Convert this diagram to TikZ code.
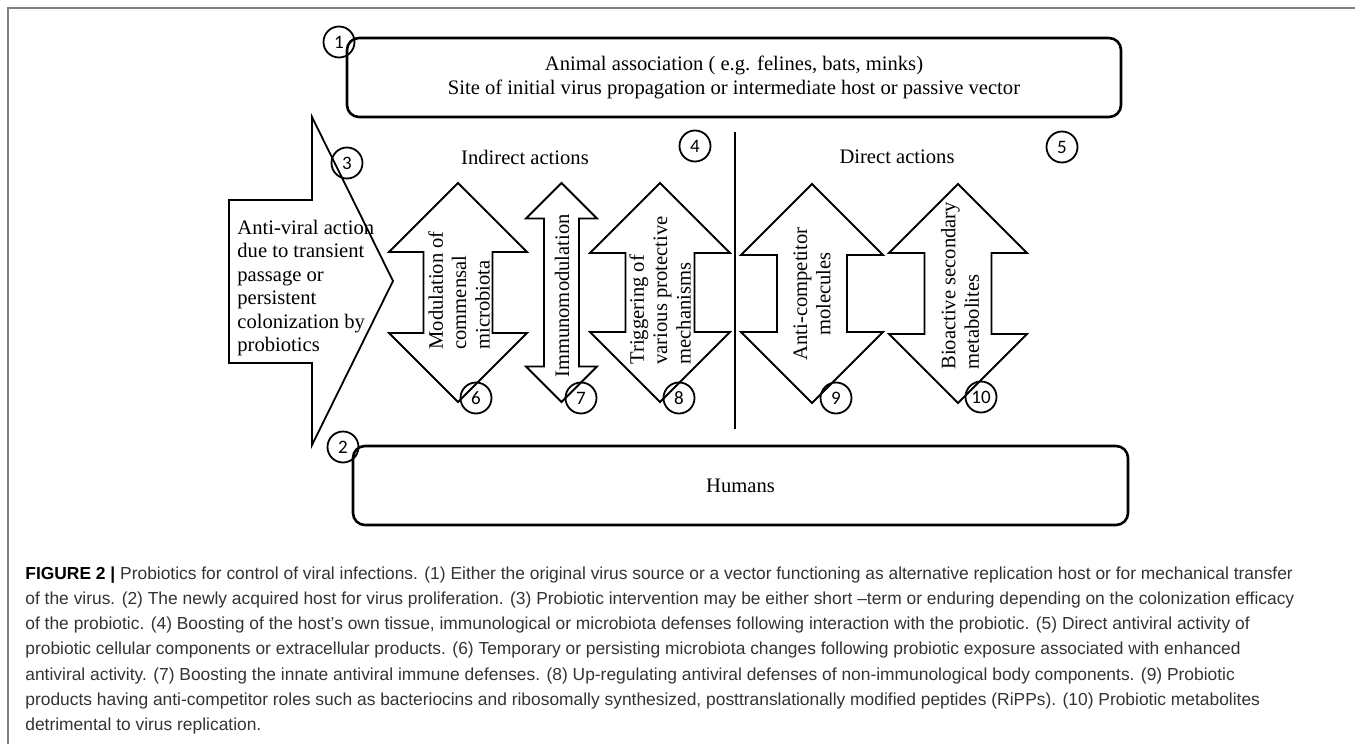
\documentclass[tikz,border=0pt]{standalone}
\usepackage{fontspec}
\setmainfont{Liberation Serif}
\newfontfamily\captionsans{Liberation Sans}
\newfontfamily\circlefont{Carlito}
\usepackage{tikz}

\newcommand{\diagtext}{\fontsize{10.3}{11.7}\selectfont}
% double headed arrow: x, top y, head half width, shaft half width
\newcommand{\dblarrow}[4]{%
  \draw[shapeline] (#1,#2) -- ++(#3,#3) -- ++({#4-#3},0) -- ++(0,{219-2*#3})
    -- ++({#3-#4},0) -- ++(-#3,#3) -- ++(-#3,-#3) -- ++({#3-#4},0)
    -- ++(0,{2*#3-219}) -- ++({#4-#3},0) -- cycle;}

\begin{document}
\begin{tikzpicture}[x=0.5pt, y=-0.5pt,
    shapeline/.style={draw, line width=0.9pt, line join=miter},
    roundbox/.style={draw, line width=1.3pt, rounded corners=6pt, minimum width=387pt, minimum height=39.5pt, inner sep=0pt, align=center, font=\diagtext},
    numcircle/.style={draw, circle, line width=0.9pt, minimum size=15.5pt, inner sep=0pt, font=\circlefont\fontsize{9.5}{10}\selectfont},
    armlabel/.style={rotate=90, inner sep=0pt, font=\diagtext}]
    \useasboundingbox (0,0) rectangle (1355,744);
    \draw[black!50, line width=0.8pt] (8,744) -- (8,8) -- (1355,8);

    % Hosts
    \node[roundbox] (animal) at (734,77.5) {Animal association ( e.g. felines, bats, minks)\\Site of initial virus propagation or intermediate host or passive vector};
    \node[roundbox, minimum width=387.5pt] (humans) at (740.5,485.5) {Humans};

    % Probiotic passage
    \draw[shapeline] (229,200) -- (312,200) -- (312,117) -- (393,281) -- (312,445) -- (312,363) -- (229,363) -- cycle;
    \node[anchor=west, align=left, inner sep=0pt, font=\diagtext] (passage) at (237,288) {Anti-viral action\\due to transient\\passage or\\persistent\\colonization by\\probiotics};

    % Headings and divider
    \node[font=\diagtext] (indirect) at (525,157) {Indirect actions};
    \node[font=\diagtext] (direct) at (897,157) {Direct actions};
    \coordinate (divtop) at (735,132);
    \coordinate (divbot) at (735,429);
    \draw[line width=1.3pt] (divtop) -- (divbot);

    % Actions
    \dblarrow{458}{183}{69}{34.5}
    \dblarrow{561.5}{183}{35.5}{17.5}
    \dblarrow{660}{183}{70}{34.5}
    \dblarrow{812}{184}{71}{35}
    \dblarrow{958}{184}{69}{33.5}
    \node[armlabel, anchor=west, align=left] (modulation) at (459,350) {Modulation of\\commensal\\microbiota};
    \node[armlabel] (immuno) at (562,296) {Immunomodulation};
    \node[armlabel, anchor=west, align=left] (triggering) at (660,365) {Triggering of\\various protective\\mechanisms};
    \node[armlabel, align=center] (competitor) at (812,294) {Anti-competitor\\molecules};
    \node[armlabel, anchor=west, align=left] (bioactive) at (960,370) {Bioactive secondary\\metabolites};

    % Numbers
    \node[numcircle] (c1) at (339,42) {1};
    \node[numcircle] (c2) at (343,447) {2};
    \node[numcircle] (c3) at (347,163) {3};
    \node[numcircle] (c4) at (695,146) {4};
    \node[numcircle] (c5) at (1062,147) {5};
    \node[numcircle] (c6) at (476,398) {6};
    \node[numcircle] (c7) at (581,398) {7};
    \node[numcircle] (c8) at (679,398) {8};
    \node[numcircle] (c9) at (836,398) {9};
    \node[numcircle] (c10) at (981,397) {10};

    % Caption
    \node[anchor=north west, inner sep=0pt, align=left, text=black!80, font=\captionsans\fontsize{8.7}{12.65}\selectfont] (caption) at (25,566) {\textbf{\color{black}FIGURE 2 |} Probiotics for control of viral infections. (1) Either the original virus source or a vector functioning as alternative replication host or for mechanical transfer\\of the virus. (2) The newly acquired host for virus proliferation. (3) Probiotic intervention may be either short –term or enduring depending on the colonization efficacy\\of the probiotic. (4) Boosting of the host’s own tissue, immunological or microbiota defenses following interaction with the probiotic. (5) Direct antiviral activity of\\probiotic cellular components or extracellular products. (6) Temporary or persisting microbiota changes following probiotic exposure associated with enhanced\\antiviral activity. (7) Boosting the innate antiviral immune defenses. (8) Up-regulating antiviral defenses of non-immunological body components. (9) Probiotic\\products having anti-competitor roles such as bacteriocins and ribosomally synthesized, posttranslationally modified peptides (RiPPs). (10) Probiotic metabolites\\detrimental to virus replication.};
\end{tikzpicture}
\end{document}
